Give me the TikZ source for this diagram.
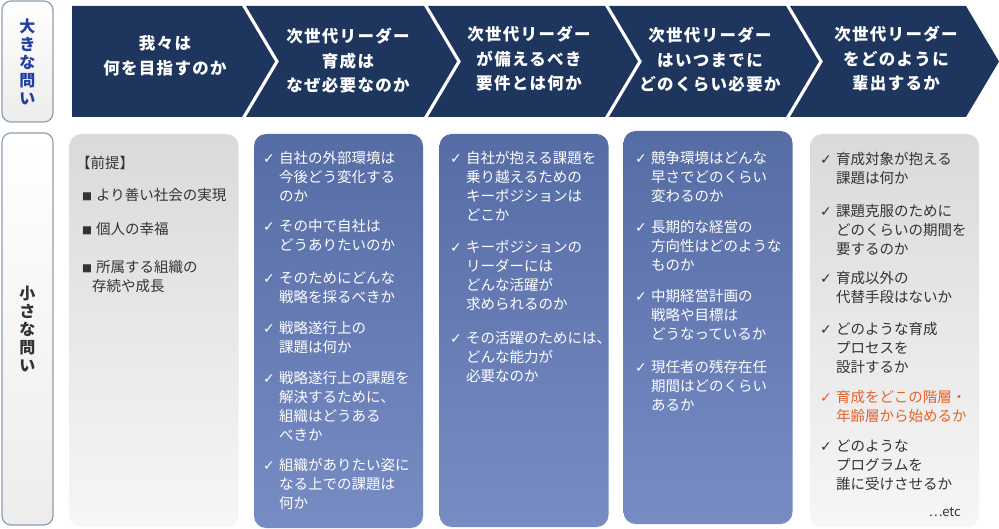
\documentclass[tikz,border=0pt]{standalone}
\usepackage{fontspec}
\setmainfont{Noto Sans CJK JP}
\newfontfamily\symfont{DejaVu Sans}
\newfontfamily\hdfont[LetterSpace=8]{Noto Sans CJK JP}

\definecolor{navy}{RGB}{30,53,94}
\definecolor{bluetop}{RGB}{86,108,165}
\definecolor{bluebot}{RGB}{120,140,196}
\definecolor{graytop}{RGB}{218,218,218}
\definecolor{graybot}{RGB}{246,246,246}
\definecolor{sideline}{RGB}{140,160,178}
\definecolor{qblue}{RGB}{35,64,160}
\definecolor{qgray}{RGB}{51,51,51}
\definecolor{qorange}{RGB}{232,98,40}

\newcommand{\chk}{\makebox[16pt][l]{\symfont\fontsize{14}{19}\selectfont ✓}}
\newcommand{\ind}{\hspace*{16pt}}
\newcommand{\sq}{\makebox[14pt][l]{\raisebox{1.2pt}{\symfont\fontsize{10.5}{19}\selectfont ■}}}

\tikzset{
  chev/.style={fill=navy},
  hdtext/.style={text=white,align=center,font=\hdfont\bfseries\fontsize{16.5}{24.5}\selectfont},
  sidebox/.style={draw=sideline,line width=1.2pt,rounded corners=9pt,top color=white,bottom color=graytop!50,
    align=center,inner sep=0pt,minimum width=51pt,font=\bfseries\fontsize{16}{18}\selectfont},
  bluecol/.style={rounded corners=12pt,top color=bluetop,bottom color=bluebot,inner sep=0pt,minimum width=169pt},
  graycol/.style={rounded corners=12pt,top color=graytop,bottom color=graybot,inner sep=0pt,minimum width=169pt},
  qitem/.style={anchor=north west,inner sep=0pt,align=left,font=\fontsize{14.5}{19}\selectfont},
}

\begin{document}
\begin{tikzpicture}[x=1pt,y=-1pt]
\useasboundingbox (0,0) rectangle (999,529);

% side labels
\node[sidebox,minimum height=121pt,text=qblue] (big) at (27.5,61.5) {大\\き\\な\\問\\い};
\node[sidebox,minimum height=392pt,text=qgray] (small) at (27.5,329) {小\\さ\\な\\問\\い};

% header chevrons
\fill[chev] (72,6) -- (242,6) -- (275,61.5) -- (242,117) -- (72,117) -- cycle;
\foreach \l/\r in {246/424,428/605,609/786,790/966}
  \fill[chev] (\l,6) -- (\r,6) -- (\r+33,61.5) -- (\r,117) -- (\l,117) -- (\l+33,61.5) -- cycle;
\node[hdtext] (q1) at (165,56) {我々は\\何を目指すのか};
\node[hdtext] (q2) at (348,61) {次世代リーダー\\育成は\\なぜ必要なのか};
\node[hdtext] (q3) at (529,59) {次世代リーダー\\が備えるべき\\要件とは何か};
\node[hdtext] (q4) at (710,60) {次世代リーダー\\はいつまでに\\どのくらい必要か};
\node[hdtext] (q5) at (896,59) {次世代リーダー\\をどのように\\輩出するか};

% columns
\node[graycol,minimum height=393pt] (c1) at (154,330.5) {};
\node[bluecol,minimum height=394pt] (c2) at (338.5,331) {};
\node[bluecol,minimum height=393pt] (c3) at (524,330.5) {};
\node[bluecol,minimum height=393pt] (c4) at (708,327.5) {};
\node[graycol,minimum height=393pt] (c5) at (894.5,330.5) {};

% column 1
\node[qitem,text=qgray] (c1-0) at (76,156) {【前提】};
\foreach \y/\t [count=\i] in {195/{\sq より善い社会の実現},229/{\sq 個人の幸福},267/{\sq 所属する組織の\\\hspace*{10pt}存続や成長}}
  \node[qitem,text=qgray] (c1-\i) at (82,\y-7) {\t};

% column 2
\foreach \y/\t [count=\i] in {
  158/{\chk 自社の外部環境は\\\ind 今後どう変化する\\\ind のか},
  226/{\chk その中で自社は\\\ind どうありたいのか},
  278/{\chk そのためにどんな\\\ind 戦略を採るべきか},
  328/{\chk 戦略遂行上の\\\ind 課題は何か},
  378/{\chk 戦略遂行上の課題を\\\ind 解決するために、\\\ind 組織はどうある\\\ind べきか},
  465/{\chk 組織がありたい姿に\\\ind なる上での課題は\\\ind 何か}}
  \node[qitem,text=white] (c2-\i) at (263,\y-7) {\t};

% column 3
\foreach \y/\t [count=\i] in {
  158/{\chk 自社が抱える課題を\\\ind 乗り越えるための\\\ind キーポジションは\\\ind どこか},
  247/{\chk キーポジションの\\\ind リーダーには\\\ind どんな活躍が\\\ind 求められるのか},
  338/{\chk その活躍のためには、\\\ind どんな能力が\\\ind 必要なのか}}
  \node[qitem,text=white] (c3-\i) at (450,\y-7) {\t};

% column 4
\foreach \y/\t [count=\i] in {
  158/{\chk 競争環境はどんな\\\ind 早さでどのくらい\\\ind 変わるのか},
  227/{\chk 長期的な経営の\\\ind 方向性はどのような\\\ind ものか},
  296/{\chk 中期経営計画の\\\ind 戦略や目標は\\\ind どうなっているか},
  367/{\chk 現任者の残存在任\\\ind 期間はどのくらい\\\ind あるか}}
  \node[qitem,text=white] (c4-\i) at (635,\y-7) {\t};

% column 5
\foreach \y/\c/\t [count=\i] in {
  159/qgray/{\chk 育成対象が抱える\\\ind 課題は何か},
  211/qgray/{\chk 課題克服のために\\\ind どのくらいの期間を\\\ind 要するのか},
  278/qgray/{\chk 育成以外の\\\ind 代替手段はないか},
  329/qgray/{\chk どのような育成\\\ind プロセスを\\\ind 設計するか},
  397/qorange/{\chk 育成をどこの階層・\\\ind 年齢層から始めるか},
  446/qgray/{\chk どのような\\\ind プログラムを\\\ind 誰に受けさせるか}}
  \node[qitem,text=\c] (c5-\i) at (820,\y-7) {\t};
\node[anchor=east,inner sep=0pt,text=qgray,font=\fontsize{13}{14}\selectfont] (etc) at (961,512) {…etc};
\end{tikzpicture}
\end{document}
